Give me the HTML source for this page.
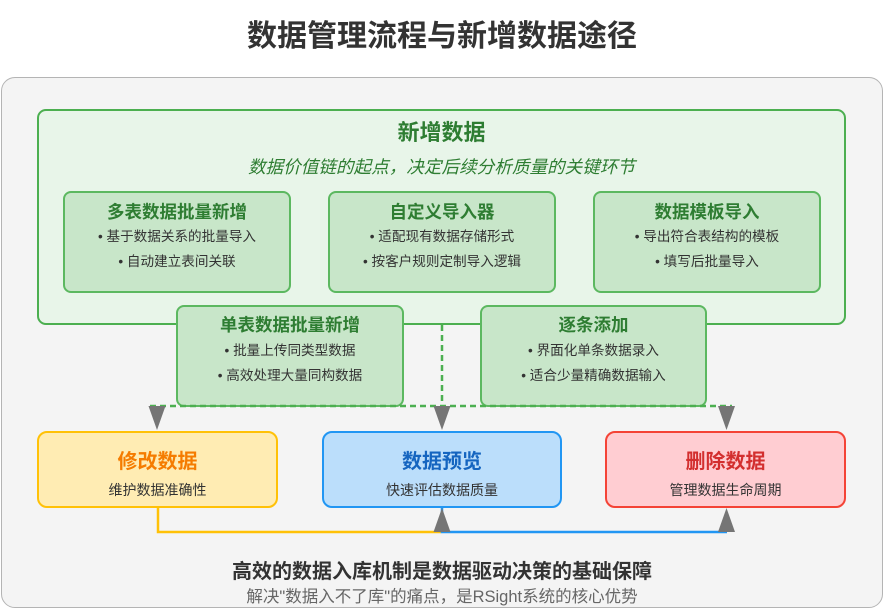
<!DOCTYPE html>
<html>
<head>
<meta charset="utf-8">
<style>
*{margin:0;padding:0;box-sizing:border-box;}
html,body{width:884px;height:609px;background:#fff;overflow:hidden;}
body{position:relative;font-family:"Liberation Sans","Noto Sans CJK SC",sans-serif;color:#333;}
.abs{position:absolute;}
.t{position:absolute;text-align:center;white-space:nowrap;}
.outer{left:1px;top:77px;width:882px;height:531px;border:1.5px solid #b4b4b4;border-radius:14px;background:#f4f4f4;}
.green{left:37px;top:109px;width:809px;height:216px;border:2.5px solid #4caf50;border-radius:9px;background:#e8f5e9;}
.sub{border:2px solid #5cb860;border-radius:8px;background:#c8e6c9;}
.gt{color:#2e7d32;font-weight:bold;font-size:17.5px;line-height:24px;}
.bl{font-size:13.6px;line-height:20px;color:#333;}
.bt{font-weight:bold;font-size:20px;line-height:28px;}
.bs{font-size:14px;line-height:20px;color:#333;}
</style>
</head>
<body>
<div class="t" style="left:0;width:884px;top:17px;line-height:40px;font-size:30px;font-weight:bold;color:#333;">数据管理流程与新增数据途径</div>

<div class="abs outer"></div>
<div class="abs green"></div>

<div class="t" style="left:37px;width:809px;top:119px;line-height:28px;font-size:22px;font-weight:bold;color:#2e7d32;">新增数据</div>
<div class="t" style="left:37px;width:809px;top:155px;line-height:24px;font-size:17.6px;font-style:italic;color:#2e7d32;">数据价值链的起点，决定后续分析质量的关键环节</div>

<!-- top row boxes -->
<div class="abs sub" style="left:63px;top:191px;width:228px;height:102px;"></div>
<div class="t gt" style="left:63px;width:228px;top:200px;">多表数据批量新增</div>
<div class="t bl" style="left:63px;width:228px;top:227px;">• 基于数据关系的批量导入</div>
<div class="t bl" style="left:63px;width:228px;top:252px;">• 自动建立表间关联</div>

<div class="abs sub" style="left:328px;top:191px;width:228px;height:102px;"></div>
<div class="t gt" style="left:328px;width:228px;top:200px;">自定义导入器</div>
<div class="t bl" style="left:328px;width:228px;top:227px;">• 适配现有数据存储形式</div>
<div class="t bl" style="left:328px;width:228px;top:252px;">• 按客户规则定制导入逻辑</div>

<div class="abs sub" style="left:593px;top:191px;width:228px;height:102px;"></div>
<div class="t gt" style="left:593px;width:228px;top:200px;">数据模板导入</div>
<div class="t bl" style="left:593px;width:228px;top:227px;">• 导出符合表结构的模板</div>
<div class="t bl" style="left:593px;width:228px;top:252px;">• 填写后批量导入</div>

<!-- second row boxes -->
<div class="abs sub" style="left:176px;top:305px;width:228px;height:102px;"></div>
<div class="t gt" style="left:176px;width:228px;top:313px;">单表数据批量新增</div>
<div class="t bl" style="left:176px;width:228px;top:341px;">• 批量上传同类型数据</div>
<div class="t bl" style="left:176px;width:228px;top:366px;">• 高效处理大量同构数据</div>

<div class="abs sub" style="left:480px;top:305px;width:227px;height:102px;"></div>
<div class="t gt" style="left:480px;width:227px;top:313px;">逐条添加</div>
<div class="t bl" style="left:480px;width:227px;top:341px;">• 界面化单条数据录入</div>
<div class="t bl" style="left:480px;width:227px;top:366px;">• 适合少量精确数据输入</div>

<!-- bottom boxes -->
<div class="abs" style="left:37px;top:431px;width:241px;height:77px;border:2.5px solid #ffc107;border-radius:10px;background:#ffecb3;"></div>
<div class="t bt" style="left:37px;width:241px;top:448px;color:#f57c00;">修改数据</div>
<div class="t bs" style="left:37px;width:241px;top:480px;">维护数据准确性</div>

<div class="abs" style="left:322px;top:431px;width:240px;height:77px;border:2.5px solid #2196f3;border-radius:10px;background:#bbdefb;"></div>
<div class="t bt" style="left:322px;width:240px;top:448px;color:#1565c0;">数据预览</div>
<div class="t bs" style="left:322px;width:240px;top:480px;">快速评估数据质量</div>

<div class="abs" style="left:605px;top:431px;width:241px;height:77px;border:2.5px solid #f44336;border-radius:10px;background:#ffcdd2;"></div>
<div class="t bt" style="left:605px;width:241px;top:448px;color:#d32f2f;">删除数据</div>
<div class="t bs" style="left:605px;width:241px;top:480px;">管理数据生命周期</div>

<!-- connectors -->
<svg class="abs" style="left:0;top:0;" width="884" height="609" viewBox="0 0 884 609">
  <g stroke="#4caf50" stroke-width="2.5" fill="none" stroke-dasharray="6,4">
    <line x1="442" y1="325" x2="442" y2="406"/>
    <line x1="150" y1="406" x2="732" y2="406"/>
  </g>
  <g fill="#757575">
    <polygon points="148.5,406 165.5,406 157,430"/>
    <polygon points="433.5,406 450.5,406 442,430"/>
    <polygon points="718,406 735,406 726.5,430"/>
  </g>
  <polyline points="158,508 158,532 441,532" stroke="#ffc107" stroke-width="2.5" fill="none"/>
  <polyline points="442,508 442,532 727,532" stroke="#2196f3" stroke-width="2.5" fill="none"/>
  <g fill="#757575">
    <polygon points="433.5,532 450.5,532 442,508"/>
    <polygon points="718,532 735,532 726.5,508"/>
  </g>
</svg>

<div class="t" style="left:0;width:884px;top:558px;line-height:28px;font-size:20px;font-weight:bold;color:#333;">高效的数据入库机制是数据驱动决策的基础保障</div>
<div class="t" style="left:0;width:884px;top:586px;line-height:22px;font-size:16.5px;color:#666;">解决"数据入不了库"的痛点，是RSight系统的核心优势</div>
</body>
</html>
